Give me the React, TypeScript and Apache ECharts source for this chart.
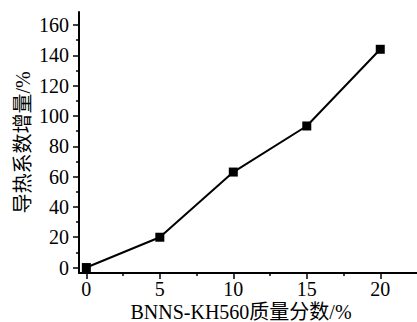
import React, { useEffect, useRef } from "react";
import * as echarts from "echarts";

const massFraction = [0, 5, 10, 15, 20];
const conductivityIncrease = [0, 20, 63, 93.4, 144];
const xMajorTicks = [0, 5, 10, 15, 20];
const xMinorTicks = [2.5, 7.5, 12.5, 17.5];
const yMajorTicks = [0, 20, 40, 60, 80, 100, 120, 140, 160];
const yMinorTicks = [10, 30, 50, 70, 90, 110, 130, 150];
const xName = "BNNS-KH560质量分数/%";
const yName = "导热系数增量/%";

const FONT = "'Liberation Serif', 'Times New Roman', 'Noto Sans CJK SC', serif";

export default function App() {
  const ref = useRef<HTMLDivElement>(null);
  useEffect(() => {
    if (!ref.current) return;
    const chart = echarts.init(ref.current, null, { renderer: "svg" });
    const xBase = { type: "value" as const, min: -0.5, max: 22.5, splitLine: { show: false } };
    const yBase = { type: "value" as const, min: -3.6, max: 168.6, splitLine: { show: false } };
    chart.setOption({
      animation: false,
      backgroundColor: "#ffffff",
      grid: { left: 79, right: 0, top: 12, bottom: 49, containLabel: false, outerBoundsMode: "none" },
      xAxis: [
        {
          ...xBase,
          name: xName,
          nameLocation: "middle",
          nameGap: 30,
          nameMoveOverlap: false,
          nameTextStyle: { fontFamily: FONT, fontSize: 20, lineHeight: 18, color: "#000", padding: [0, 14, 0, 0] },
          axisLine: { show: true, onZero: false, lineStyle: { color: "#000", width: 2 } },
          axisTick: { show: true, inside: false, length: 6, customValues: xMajorTicks, lineStyle: { color: "#000", width: 1.5 } },
          axisLabel: { show: true, customValues: xMajorTicks, margin: 7, fontFamily: FONT, fontSize: 20, lineHeight: 18, color: "#000" },
        },
        {
          ...xBase,
          position: "bottom",
          axisLine: { show: false, onZero: false },
          axisTick: { show: true, inside: false, length: 3, customValues: xMinorTicks, lineStyle: { color: "#000", width: 1.5 } },
          axisLabel: { show: false },
        },
      ],
      yAxis: [
        {
          ...yBase,
          name: yName,
          nameLocation: "middle",
          nameGap: 46,
          nameRotate: 90,
          nameMoveOverlap: false,
          nameTextStyle: { fontFamily: FONT, fontSize: 20, color: "#000" },
          axisLine: { show: true, onZero: false, lineStyle: { color: "#000", width: 2 } },
          axisTick: { show: true, inside: false, length: 6, customValues: yMajorTicks, lineStyle: { color: "#000", width: 1.5 } },
          axisLabel: { show: true, customValues: yMajorTicks, margin: 10, fontFamily: FONT, fontSize: 20, color: "#000" },
        },
        {
          ...yBase,
          position: "left",
          axisLine: { show: false, onZero: false },
          axisTick: { show: true, inside: false, length: 3, customValues: yMinorTicks, lineStyle: { color: "#000", width: 1.5 } },
          axisLabel: { show: false },
        },
      ],
      series: [
        {
          type: "line",
          xAxisIndex: 0,
          yAxisIndex: 0,
          data: massFraction.map((x, i) => [x, conductivityIncrease[i]]),
          symbol: "rect",
          symbolSize: 9,
          showSymbol: true,
          lineStyle: { color: "#000", width: 2 },
          itemStyle: { color: "#000" },
        },
      ],
    });
    return () => chart.dispose();
  }, []);
  return (
    <div
      ref={ref}
      style={{ position: "absolute", left: 0, top: 0, width: 417, height: 322 }}
    />
  );
}
